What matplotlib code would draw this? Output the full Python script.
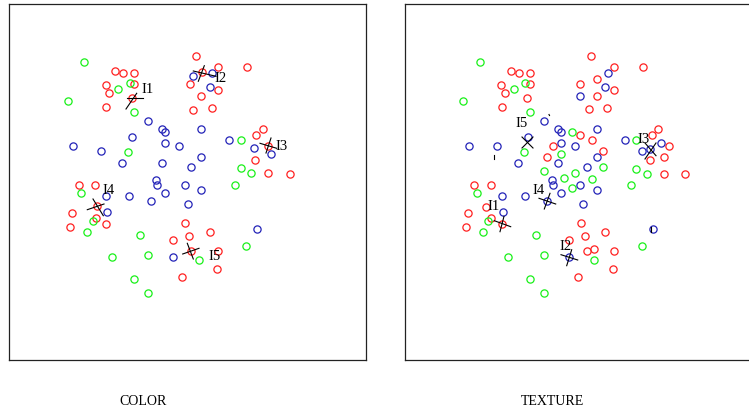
import matplotlib.pyplot as plt

plt.rcParams['font.family'] = ['Liberation Serif', 'DejaVu Serif']

# --- COLOR panel: point positions by class (panel units, y downward) ---
color_red_x = [115, 123.3, 134.3, 105.7, 134.3, 109.3, 131.7, 106.3, 195.7, 218.3, 246.7,
               201.7, 190.3, 218.3, 201.3, 193.3, 211.7, 262.7, 256.2, 268.3, 254.5, 268.3,
               289.7, 78.7, 95.3, 96.7, 72.3, 95.7, 106.3, 70.3, 185.3, 209.7, 188.8, 173.3,
               191, 218, 217.3, 181.8]
color_red_y = [71.7, 74.2, 74, 86, 85.3, 93.7, 99.3, 107.7, 57.3, 68.3, 67.7,
               73.3, 85.3, 91, 96.7, 110.5, 108.5, 130, 136.2, 146.7, 160.8, 174.3,
               175.3, 185.7, 185.7, 206.7, 214.3, 219, 224.7, 227.7, 223.7, 233, 236.7, 241.3,
               251.7, 252.3, 270, 277.7]
color_green_x = [84.3, 129.7, 118.3, 67.7, 134.3, 128.2, 240.5, 240.5, 251.3, 234.7, 81.3,
                 92.7, 87, 140, 112.3, 148.3, 134.3, 148.3, 246, 198.7]
color_green_y = [63, 84.3, 90, 102, 113.2, 153.2, 140.8, 168.7, 174.3, 185.7, 194,
                 222, 233, 236, 258, 255.7, 280.3, 294.3, 247, 261]
color_blue_x = [193.3, 212.3, 210, 148.3, 162, 165, 201.2, 131.7, 73, 101, 165, 179, 229,
                254.2, 271, 122.3, 161.5, 201.2, 191, 156, 156.7, 184.5, 165.2, 201.2, 129,
                151, 187.5, 106.3, 107.3, 257, 173.3]
color_blue_y = [76.7, 74, 88.3, 121.5, 129.8, 132.7, 130, 138.3, 146.7, 152.3, 144, 146.7,
                140.8, 149.3, 155, 164, 164, 157.7, 168, 180.7, 185.7, 185.7, 194, 191.2,
                196.7, 202.3, 205.2, 196.7, 212.7, 230.3, 258]

# --- TEXTURE panel ---
texture_red_x = [510.7, 519, 530, 501.3, 530, 505.3, 527.3, 502.3, 591.3, 613.7, 642.7, 597,
                 580.3, 613.7, 597, 588.7, 607.3, 580.3, 591.5, 552.5, 546.7, 602.7, 658.3,
                 652, 669.3, 664, 650, 664, 685.3, 474.3, 491, 485.7, 468.3, 491.3, 502.3,
                 466, 581, 605.3, 585, 569.3, 587, 594.3, 613.7, 613, 577.7]
texture_red_y = [71.7, 74, 74, 85.7, 85.3, 93.7, 99.3, 107.7, 57.3, 68.3, 67.7, 79.7,
                 85.3, 91, 96.7, 110.3, 108.7, 135.5, 140.8, 146.7, 157.7, 152, 130,
                 136.3, 146.7, 157.7, 160.7, 174.7, 175.3, 185.7, 185.7, 208.3, 214.3, 219,
                 224.7, 227.7, 223.7, 233, 236.7, 241, 252, 250, 252.3, 270, 277.7]
texture_green_x = [480, 525.3, 514.3, 463, 530, 572, 524, 561, 544.3, 603.3, 564.3, 574.7,
                   591.5, 572, 477.3, 488.3, 482.7, 535.7, 508, 544.3, 594.3, 530, 544.3,
                   636, 636, 647.3, 630.7, 641.7]
texture_green_y = [63, 84.3, 90, 102, 113, 132.7, 153.3, 155, 171.7, 168, 178.5, 174.3,
                   180, 188.5, 194, 222, 233, 236, 258, 255.7, 260.7, 280.3, 294.3,
                   141, 169.5, 174.5, 185.7, 247]
texture_blue_x = [608.3, 605.3, 580.3, 544.3, 557.7, 561, 597, 527.5, 469, 496.7, 561,
                  574.8, 597, 518.3, 557.5, 586.7, 551.7, 552.7, 580.2, 561, 597, 502.3,
                  524.5, 583.3, 503.3, 625, 641.7, 661.3, 650, 652.7, 546.7, 569.3]
texture_blue_y = [74, 88.3, 96.7, 121.5, 129.8, 132.7, 129.8, 138.3, 146.7, 146.7, 144,
                  146.7, 157.7, 164, 164, 168.2, 180.7, 185.8, 185.8, 194, 191.2, 196.8,
                  196.8, 205.2, 212.7, 141, 152.3, 144, 150, 230.3, 202.3, 258.3]

# query markers: two strokes each, as (x0, y0, x1, y1)
color_query_names = ['I1', 'I2', 'I3', 'I4', 'I5']
color_query_strokes = [
    [(127, 99.3, 143, 99.3), (126, 110, 136.7, 94.3)],
    [(193.3, 72, 216, 77.3), (198.3, 82.3, 204.3, 66.7)],
    [(260, 144.3, 276.7, 149.3), (266, 154, 271, 139)],
    [(87.3, 210.7, 104, 205), (93, 200, 103.3, 216.7)],
    [(182.7, 255, 199, 249.3), (187.3, 244.3, 193.3, 260)],
]
color_label_x = [147.5, 220.5, 282, 109, 214.5]
color_label_y = [89.5, 78.5, 146, 190, 257]

texture_query_names = ['I1', 'I2', 'I3', 'I4', 'I5']
texture_query_strokes = [
    [(494.3, 221.7, 510.7, 227.7), (500, 232.7, 504, 217.3)],
    [(561, 255.7, 577.7, 261), (566.7, 266.7, 571.7, 250.7)],
    [(645, 144, 656, 156.7), (645, 160, 656, 144)],
    [(539, 199.3, 555.7, 205), (544.3, 210, 550, 194.3)],
    [(522, 138, 533, 149), (522, 149, 533, 138)],
]
texture_label_x = [493.3, 566, 644, 538.3, 521.7]
texture_label_y = [207, 246, 139, 190, 123]
# short strokes of queries that collapse to almost nothing
texture_stub_strokes = [(494, 156, 494, 160), (549, 115.5, 549.5, 116.5),
                        (650.5, 228, 650.5, 232.5)]

RED, GREEN, BLUE = '#ff2020', '#19f019', '#2323b8'


def draw_panel(ax, reds, greens, blues, strokes, names, lx, ly, extra=()):
    for (xs, ys), c in zip([reds, greens, blues], [RED, GREEN, BLUE]):
        ax.plot(xs, ys, 'o', ms=5.2, mfc='none', mec=c, mew=0.9, ls='none')
    for pair in strokes:
        for x0, y0, x1, y1 in pair:
            ax.plot([x0, x1], [y0, y1], color='black', lw=0.8)
    for x0, y0, x1, y1 in extra:
        ax.plot([x0, x1], [y0, y1], color='black', lw=0.8)
    for name, x, y in zip(names, lx, ly):
        ax.text(x, y, name, fontsize=10.5, ha='center', va='center')
    ax.set_xticks([])
    ax.set_yticks([])
    for sp in ax.spines.values():
        sp.set_linewidth(0.9)
        sp.set_color('#222222')


fig = plt.figure(figsize=(7.49, 4.10), dpi=100)
W, H = 749, 410

ax1 = fig.add_axes([9 / W, (H - 361) / H, 357 / W, 356 / H])
ax1.set_xlim(9, 366)
ax1.set_ylim(361, 5)
draw_panel(ax1, (color_red_x, color_red_y), (color_green_x, color_green_y),
           (color_blue_x, color_blue_y), color_query_strokes, color_query_names,
           color_label_x, color_label_y)

ax2 = fig.add_axes([405 / W, (H - 361) / H, 357 / W, 356 / H])
ax2.set_xlim(405, 762)
ax2.set_ylim(361, 5)
draw_panel(ax2, (texture_red_x, texture_red_y), (texture_green_x, texture_green_y),
           (texture_blue_x, texture_blue_y), texture_query_strokes, texture_query_names,
           texture_label_x, texture_label_y, texture_stub_strokes)

fig.text(143 / W, (H - 402) / H, 'COLOR', fontsize=10, ha='center', va='center')
fig.text(552 / W, (H - 402) / H, 'TEXTURE', fontsize=10, ha='center', va='center')

fig.savefig('out.png', dpi=100)
